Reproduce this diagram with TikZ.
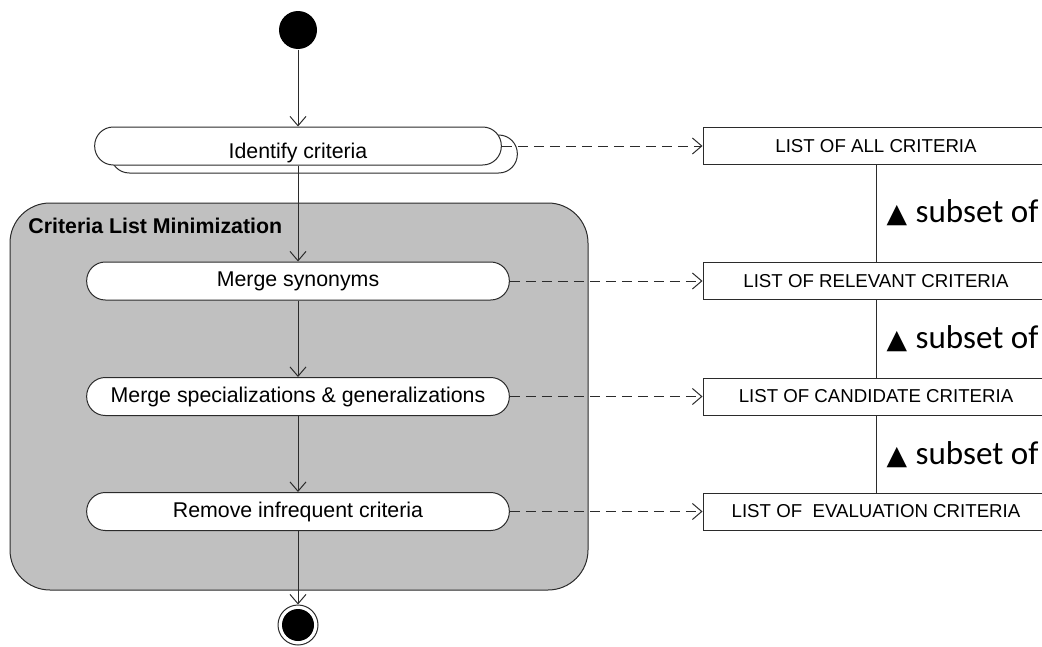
\documentclass[tikz,border=0pt]{standalone}
\usepackage{fontspec}
\setmainfont{Liberation Sans}
\newfontfamily\subsetfont{Carlito}
\newfontfamily\symbolfont{DejaVu Sans}
\usepackage{tikz}
\usetikzlibrary{arrows.meta}
\definecolor{group_gray}{HTML}{C0C0C0}
\definecolor{line_gray}{HTML}{2B2B2B}

\begin{document}
\begin{tikzpicture}[x=0.75pt, y=-0.75pt, line width=0.75pt, >={Straight Barb[length=7pt,width=12pt]}]
            % Styles
            \tikzstyle{activity} = [rectangle, rounded corners=14pt, draw=line_gray, fill=white, minimum height=28.5pt, inner sep=0pt, font=\fontsize{16}{19}\selectfont]
            \tikzstyle{artifact} = [rectangle, draw=line_gray, fill=white, minimum width=259.5pt, minimum height=27.75pt, inner sep=0pt, font=\fontsize{14}{17}\selectfont]
            \tikzstyle{flow} = [->, draw=line_gray]
            \tikzstyle{produces} = [->, draw=line_gray, dash pattern=on 7.5pt off 4.5pt]
            \tikzstyle{subset} = [anchor=base west, inner sep=0pt, font=\subsetfont\fontsize{24.8}{30}\selectfont]

            \useasboundingbox (0,0) rectangle (1042,646);
            \clip (0,0) rectangle (1042,646);

            % Group: minimization
            \node[draw=line_gray, fill=group_gray, rounded corners=30pt, minimum width=433.5pt, minimum height=290.25pt, inner sep=0pt] (group) at (299,396.5) {};
            \node[anchor=west, inner sep=0pt, font=\bfseries\fontsize{16}{19}\selectfont] (groupLabel) at (28,226) {Criteria List Minimization};

            % Nodes: Start and end
            \node[circle, fill=black, minimum size=28.5pt, inner sep=0pt] (start) at (298,30) {};
            \node[circle, draw=line_gray, fill=white, minimum size=30pt, inner sep=0pt] (end) at (298,625) {};
            \node[circle, fill=black, minimum size=24pt, inner sep=0pt] (endDot) at (298,625) {};

            % Nodes: Activities
            \node[activity, minimum width=305pt] (identShadow) at (314,154) {};
            \node[activity, minimum width=305pt] (ident) at (298,146) {\raisebox{-5.5pt}[\height][\depth]{Identify criteria}};
            \node[activity, minimum width=317pt] (merge) at (298,281) {Merge synonyms};
            \node[activity, minimum width=317pt] (spec) at (298,396.5) {Merge specializations \& generalizations};
            \node[activity, minimum width=317pt] (remove) at (298,511.5) {Remove infrequent criteria};

            % Nodes: Criteria lists
            \node[artifact] (all) at (876,146) {LIST OF ALL CRITERIA};
            \node[artifact] (relevant) at (876,281) {LIST OF RELEVANT CRITERIA};
            \node[artifact] (candidate) at (876,396.5) {LIST OF CANDIDATE CRITERIA};
            \node[artifact] (evaluation) at (876,511.5) {LIST OF \ EVALUATION CRITERIA};

            % Control flow
            \draw[flow] (start) -- (ident);
            \draw[flow] (ident) -- (merge);
            \draw[flow] (merge) -- (spec);
            \draw[flow] (spec) -- (remove);
            \draw[flow] (remove) -- (end);

            % Outputs
            \draw[produces] (ident) -- (all);
            \draw[produces] (merge) -- (relevant);
            \draw[produces] (spec) -- (candidate);
            \draw[produces] (remove) -- (evaluation);

            % Subset relations
            \draw[line_gray] (all) -- (relevant);
            \draw[line_gray] (relevant) -- (candidate);
            \draw[line_gray] (candidate) -- (evaluation);
            \node[subset] (sub1) at (886,222) {{\symbolfont\fontsize{20}{24}\selectfont ▲}\hspace{6.5pt}subset of};
            \node[subset] (sub2) at (886,348) {{\symbolfont\fontsize{20}{24}\selectfont ▲}\hspace{6.5pt}subset of};
            \node[subset] (sub3) at (886,464) {{\symbolfont\fontsize{20}{24}\selectfont ▲}\hspace{6.5pt}subset of};
        \end{tikzpicture}
\end{document}
